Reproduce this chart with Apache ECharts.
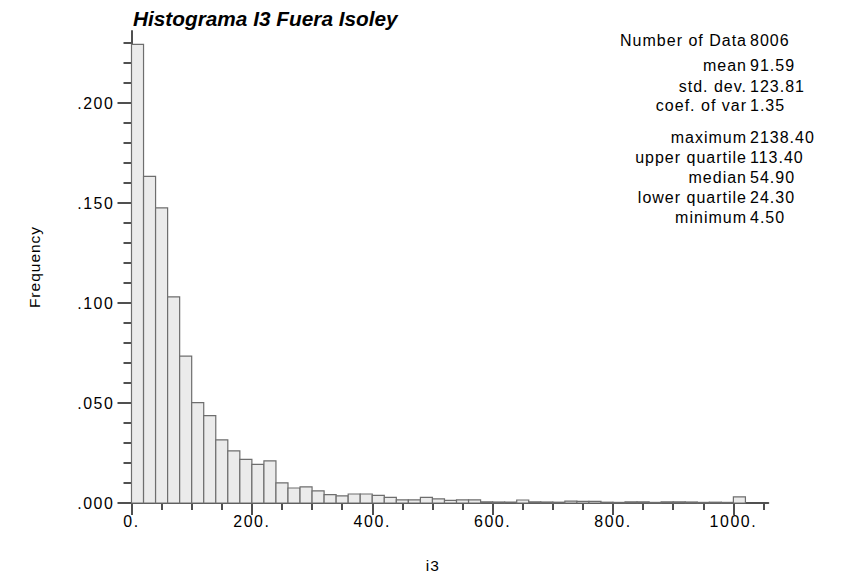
<!DOCTYPE html>
<html>
<head>
<meta charset="utf-8">
<script src="https://cdn.jsdelivr.net/npm/echarts@6/dist/echarts.min.js"></script>
<style>
  html, body { margin: 0; padding: 0; background: #fff; }
  #chart { width: 853px; height: 578px; }
  #chart svg text { letter-spacing: 1px; }
  #chart svg text[style*="15.9px"] { letter-spacing: 1.6px; }
  #chart svg text[style*="italic"] { letter-spacing: 0; }
</style>
</head>
<body>
<div id="chart"></div>
<script>
// ---- data ----
const titleText = 'Histograma I3 Fuera Isoley';
const xName = 'i3';
const yName = 'Frequency';
const binWidth = 20;
const frequencies = [
  0.2293, 0.1633, 0.1476, 0.1031, 0.0734, 0.0502, 0.0437, 0.0316, 0.0261, 0.0218,
  0.0193, 0.0211, 0.0101, 0.0075, 0.0081, 0.0061, 0.0042, 0.0036, 0.0045, 0.0045,
  0.0038, 0.0028, 0.0016, 0.0016, 0.0028, 0.0021, 0.0013, 0.0016, 0.0016, 0.0006,
  0.0005, 0.0005, 0.0015, 0.0006, 0.0005, 0.0004, 0.0009, 0.0008, 0.0008, 0.0004,
  0.0003, 0.0006, 0.0006, 0.0003, 0.0006, 0.0006, 0.0005, 0.0003, 0.0004, 0.0003,
  0.0031
];
const xTicks = [0, 200, 400, 600, 800, 1000];
const yTicks = [0, 0.05, 0.10, 0.15, 0.20];
const statLabels = ['Number of Data', 'mean', 'std. dev.', 'coef. of var', 'maximum', 'upper quartile', 'median', 'lower quartile', 'minimum'];
const statValues = ['8006', '91.59', '123.81', '1.35', '2138.40', '113.40', '54.90', '24.30', '4.50'];

// ---- layout ----
const FONT = '"Liberation Sans", Arial, Helvetica, sans-serif';
const statRowY = [40.5, 65.5, 86, 105.5, 137, 157, 177, 197, 217.5];
const statX = 747;

const bins = frequencies.map((f, i) => [i * binWidth, (i + 1) * binWidth, f]);

const graphics = [];
statLabels.forEach((t, i) => {
  graphics.push({
    type: 'text', x: statX, y: statRowY[i],
    style: { text: t, fill: '#000', font: '16px ' + FONT, textAlign: 'right', textVerticalAlign: 'middle' }
  });
  graphics.push({
    type: 'text', x: statX + 3, y: statRowY[i],
    style: { text: statValues[i], fill: '#000', font: '16px ' + FONT, textAlign: 'left', textVerticalAlign: 'middle' }
  });
});

const axisColor = '#505050';
const chart = echarts.init(document.getElementById('chart'), null, { renderer: 'svg' });
chart.setOption({
  animation: false,
  backgroundColor: '#fff',
  title: {
    text: titleText, left: 133, top: 7.5, padding: 0,
    textStyle: { fontFamily: FONT, fontSize: 20.8, fontStyle: 'italic', fontWeight: 'bold', color: '#000' }
  },
  grid: { left: 131.5, right: 84.7, top: 31, bottom: 74.7, containLabel: false },
  xAxis: {
    type: 'value', min: 0, max: 1058, interval: 200,
    name: xName, nameLocation: 'middle', nameGap: 54,
    nameTextStyle: { fontFamily: FONT, fontSize: 15.5, color: '#000', padding: [0, 34, 0, 0] },
    axisLine: { show: true, onZero: false, lineStyle: { color: axisColor, width: 2 } },
    axisTick: { show: true, length: 12, customValues: xTicks, lineStyle: { color: axisColor, width: 2 } },
    minorTick: { show: true, splitNumber: 4, length: 7, lineStyle: { color: axisColor, width: 2 } },
    axisLabel: {
      customValues: xTicks, margin: 10, fontFamily: FONT, fontSize: 15.9, color: '#000',
      formatter: v => v + '.'
    },
    splitLine: { show: false }
  },
  yAxis: {
    type: 'value', min: 0, max: 0.236, interval: 0.05,
    name: yName, nameLocation: 'middle', nameGap: 89, nameRotate: 90,
    nameTextStyle: { fontFamily: FONT, fontSize: 15.5, color: '#000' },
    axisLine: { show: true, lineStyle: { color: axisColor, width: 2 } },
    axisTick: { show: true, length: 14, customValues: yTicks, lineStyle: { color: axisColor, width: 2 } },
    minorTick: { show: true, splitNumber: 5, length: 8, lineStyle: { color: axisColor, width: 2 } },
    axisLabel: {
      customValues: yTicks, margin: 17, fontFamily: FONT, fontSize: 15.9, color: '#000',
      formatter: v => v.toFixed(3).replace(/^0/, '')
    },
    splitLine: { show: false }
  },
  series: [{
    type: 'custom',
    data: bins,
    encode: { x: [0, 1], y: 2 },
    renderItem: function (params, api) {
      const p0 = api.coord([api.value(0), api.value(2)]);
      const p1 = api.coord([api.value(1), 0]);
      return {
        type: 'rect',
        shape: { x: p0[0], y: p0[1], width: p1[0] - p0[0], height: p1[1] - p0[1] },
        style: { fill: '#ebebeb', stroke: '#6e6e6e', lineWidth: 1.2 }
      };
    }
  }],
  graphic: graphics
});
</script>
</body>
</html>
